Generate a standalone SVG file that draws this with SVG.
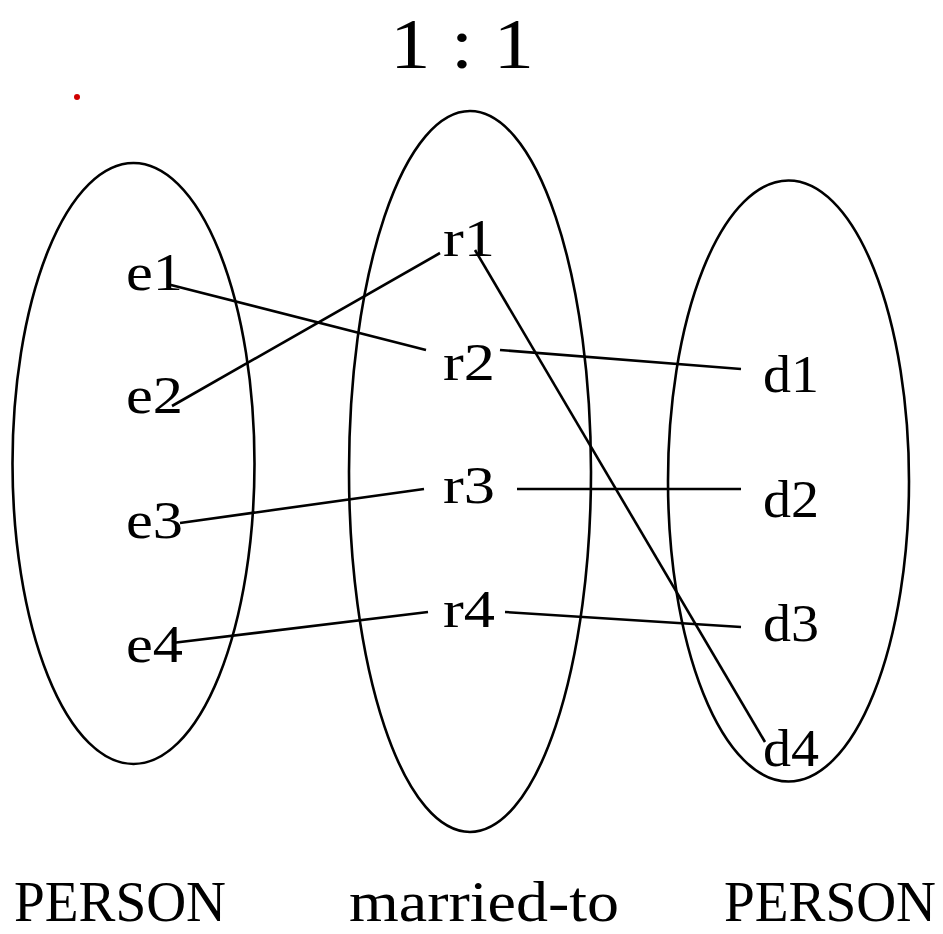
<svg xmlns="http://www.w3.org/2000/svg" width="943" height="934" viewBox="0 0 943 934">
<style>
.set{fill:none;stroke:#000;stroke-width:2.6}
.lbl{font-family:"Liberation Serif","DejaVu Serif",serif;font-size:52px;fill:#000}
.cap{font-family:"Liberation Serif","DejaVu Serif",serif;font-size:56px;fill:#000}
.ttl{font-family:"Liberation Serif","DejaVu Serif",serif;font-size:72px;fill:#000}
.conn line{stroke:#000;stroke-width:2.6}
</style>
<rect width="943" height="934" fill="#fff"/>
<text class="ttl" x="390" y="68" textLength="144" lengthAdjust="spacingAndGlyphs">1 : 1</text>
<circle cx="77" cy="97" r="3" fill="#d00000"/>
<g id="set-left"><ellipse class="set" cx="133.5" cy="463.5" rx="121" ry="300.5"/></g>
<g id="set-mid"><ellipse class="set" cx="470" cy="471.5" rx="121" ry="360.5"/></g>
<g id="set-right"><ellipse class="set" cx="788.5" cy="481" rx="120.5" ry="300.5"/></g>
<g class="conn" id="connectors">
<line x1="167" y1="284" x2="426" y2="350"/>
<line x1="172" y1="406" x2="440" y2="253"/>
<line x1="475" y1="250" x2="765" y2="742"/>
<line x1="500" y1="350" x2="741" y2="369"/>
<line x1="180" y1="523" x2="424" y2="489"/>
<line x1="517" y1="489" x2="741" y2="489"/>
<line x1="172" y1="643" x2="428" y2="612"/>
<line x1="505" y1="612" x2="741" y2="627"/>
</g>
<g id="e1"><text class="lbl" x="126" y="290" textLength="57" lengthAdjust="spacingAndGlyphs">e1</text></g>
<g id="e2"><text class="lbl" x="126" y="413" textLength="57" lengthAdjust="spacingAndGlyphs">e2</text></g>
<g id="e3"><text class="lbl" x="126" y="538" textLength="57" lengthAdjust="spacingAndGlyphs">e3</text></g>
<g id="e4"><text class="lbl" x="126" y="662" textLength="57" lengthAdjust="spacingAndGlyphs">e4</text></g>
<g id="r1"><text class="lbl" x="443" y="256" textLength="52" lengthAdjust="spacingAndGlyphs">r1</text></g>
<g id="r2"><text class="lbl" x="443" y="380" textLength="52" lengthAdjust="spacingAndGlyphs">r2</text></g>
<g id="r3"><text class="lbl" x="443" y="503" textLength="52" lengthAdjust="spacingAndGlyphs">r3</text></g>
<g id="r4"><text class="lbl" x="443" y="627" textLength="52" lengthAdjust="spacingAndGlyphs">r4</text></g>
<g id="d1"><text class="lbl" x="763" y="392" textLength="56" lengthAdjust="spacingAndGlyphs">d1</text></g>
<g id="d2"><text class="lbl" x="763" y="517" textLength="56" lengthAdjust="spacingAndGlyphs">d2</text></g>
<g id="d3"><text class="lbl" x="763" y="641" textLength="56" lengthAdjust="spacingAndGlyphs">d3</text></g>
<g id="d4"><text class="lbl" x="763" y="766" textLength="56" lengthAdjust="spacingAndGlyphs">d4</text></g>
<text class="cap" x="14" y="921" textLength="212" lengthAdjust="spacingAndGlyphs">PERSON</text>
<text class="cap" x="349" y="921" textLength="270" lengthAdjust="spacingAndGlyphs">married-to</text>
<text class="cap" x="724" y="921" textLength="212" lengthAdjust="spacingAndGlyphs">PERSON</text>
</svg>
